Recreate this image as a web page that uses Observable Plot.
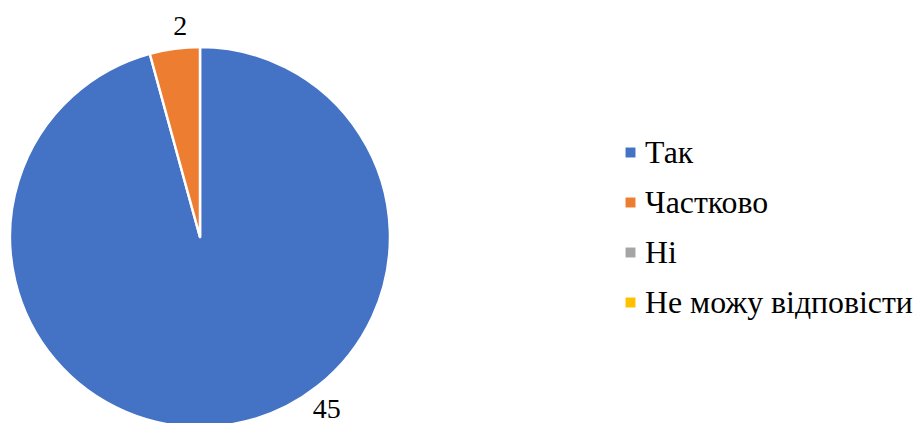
<!DOCTYPE html>
<html>
<head>
<meta charset="utf-8">
<script src="https://cdn.jsdelivr.net/npm/d3@7"></script>
<script src="https://cdn.jsdelivr.net/npm/@observablehq/plot@0.6"></script>
</head>
<body style="margin:0">
<div id="chart"></div>
<script>
// ---- data ----
const categories = ["Так", "Частково", "Ні", "Не можу відповісти"];
const values = [45, 2, 0, 0];
const colors = ["#4472C4", "#ED7D31", "#A5A5A5", "#FFC000"];

// ---- layout / style ----
const W = 920, H = 423;
const pieCenter = [200, 237];
const pieRadius = 190;
const labelRadius = 213;
const labelAngleDeg = {"Так": 143.5, "Частково": -5.3};
const legendX = 630;
const legendRange = [151, 303];
const legendTextWidth = 268;
const fontFamily = "Liberation Serif, Noto Serif, DejaVu Serif, serif";

const data = categories.map((c, i) => ({category: c, value: values[i]}));

function pieMark(index, scales, vals, dims) {
  const svg = d3.create("svg:g");
  const arcs = d3.pie().sort(null).value(d => d.value)(data.filter(d => d.value > 0));
  const arc = d3.arc().innerRadius(0).outerRadius(pieRadius);
  const g = svg.append("g").attr("transform", `translate(${pieCenter[0]},${pieCenter[1]})`);
  g.selectAll("path").data(arcs).join("path")
    .attr("d", arc)
    .attr("fill", d => scales.color(d.data.category))
    .attr("stroke", "#fff")
    .attr("stroke-width", 2.5)
    .attr("stroke-linejoin", "round");
  const ang = d => (labelAngleDeg[d.data.category] ?? ((d.startAngle + d.endAngle) / 2 * 180 / Math.PI)) * Math.PI / 180;
  g.selectAll("text").data(arcs).join("text")
    .attr("x", d => labelRadius * Math.sin(ang(d)))
    .attr("y", d => -labelRadius * Math.cos(ang(d)))
    .attr("text-anchor", "middle")
    .attr("dy", "0.35em")
    .attr("font-family", fontFamily)
    .attr("font-size", 28)
    .attr("fill", "#000")
    .text(d => d.data.value);
  return svg.node();
}

function legendLabels(index, scales, vals, dims) {
  const g = d3.create("svg:g").attr("class", "legend-labels");
  g.selectAll("text").data(data).join("text")
    .attr("x", legendX + 15)
    .attr("y", d => scales.y(d.category))
    .attr("dy", "0.35em")
    .attr("text-anchor", "start")
    .attr("font-family", fontFamily)
    .attr("font-size", 32)
    .attr("fill", "#000")
    .text(d => d.category);
  return g.node();
}

const chart = Plot.plot({
  width: W,
  height: H,
  margin: 0,
  x: {type: "identity", axis: null},
  y: {type: "point", domain: categories, range: legendRange, padding: 0, axis: null},
  color: {domain: categories, range: colors},
  marks: [
    pieMark,
    Plot.dot(data, {x: () => legendX, y: "category", fill: "category", symbol: "square", r: 5.6, stroke: null}),
    legendLabels
  ]
});
chart.setAttribute("font-family", fontFamily);
document.getElementById("chart").appendChild(chart);

// fit the legend font so the longest label spans the reference width
const legendTexts = [...chart.querySelectorAll(".legend-labels text")];
const maxLen = Math.max(...legendTexts.map(t => t.getComputedTextLength()));
if (maxLen > 0) {
  const size = Math.max(26, Math.min(34, 32 * legendTextWidth / maxLen));
  legendTexts.forEach(t => t.setAttribute("font-size", size.toFixed(1)));
}
</script>
</body>
</html>
